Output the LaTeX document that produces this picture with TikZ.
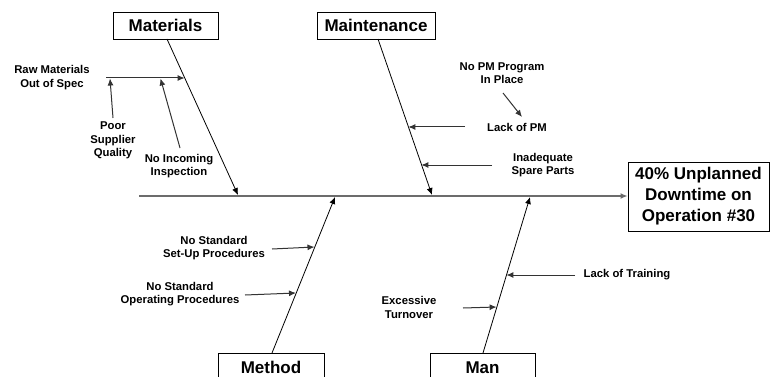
\documentclass[tikz,border=0pt]{standalone}
\usepackage{fontspec}
\setmainfont{Liberation Sans}
\usetikzlibrary{arrows.meta}
\tikzset{
  bigbox/.style={draw=black, line width=0.9pt, fill=white, inner sep=0pt, font=\bfseries\fontsize{17}{21}\selectfont, align=center},
  lbl/.style={inner sep=0pt, font=\bfseries\fontsize{11.3}{13.5}\selectfont, align=center},
  bone/.style={draw=black, line width=0.8pt, -{Latex[length=7pt,width=6pt]}},
  sub/.style={draw=black!80, line width=1pt, -{Latex[length=7pt,width=6pt]}},
  spine/.style={draw=gray!85!black, line width=1.6pt, -{Latex[length=7pt,width=6pt]}}
}
\begin{document}
\begin{tikzpicture}[x=1pt,y=-1pt]
\clip (0,0) rectangle (773,377);
\fill[white] (0,0) rectangle (773,377);
% boxes
\node[bigbox, minimum width=105pt, minimum height=27pt] (mat) at (165.5,25.5) {Materials};
\node[bigbox, minimum width=118pt, minimum height=27pt] (mnt) at (376,25.5) {Maintenance};
\node[bigbox, minimum width=141pt, minimum height=69pt] (eff) at (698.5,196.5) {40\% Unplanned\\Downtime on\\Operation \#30};
\node[bigbox, minimum width=106pt, minimum height=28pt, anchor=north] (met) at (271,353) {Method};
\node[bigbox, minimum width=105pt, minimum height=28pt, anchor=north] (man) at (482.5,353) {Man};
% spine
\coordinate (sp0) at (139,196);
\draw[spine] (sp0) -- (eff.west |- sp0);
% bone end points on spine
\coordinate (matT) at (167,39);
\coordinate (matE) at (238,195);
\coordinate (mntT) at (378,39);
\coordinate (mntE) at (432,195);
\coordinate (metT) at (272,353);
\coordinate (metE) at (335,197);
\coordinate (manT) at (483,353);
\coordinate (manE) at (530,197);
\draw[bone] (matT) -- (matE);
\draw[bone] (mntT) -- (mntE);
\draw[bone] (metT) -- (metE);
\draw[bone] (manT) -- (manE);
% labels
\node[lbl] (rm) at (52,77.5) {Raw Materials\\Out of Spec};
\node[lbl] (psq) at (113,140.5) {Poor\\Supplier\\Quality};
\node[lbl] (nii) at (179,166) {No Incoming\\Inspection};
\node[lbl] (npm) at (502,73) {No PM Program\\In Place};
\node[lbl] (lpm) at (517,127) {Lack of PM};
\node[lbl] (isp) at (543,165) {Inadequate\\Spare Parts};
\node[lbl] (nsu) at (214,248) {No Standard\\Set-Up Procedures};
\node[lbl] (nso) at (180,294) {No Standard\\Operating Procedures};
\node[lbl] (ext) at (409,307.5) {Excessive\\Turnover};
\node[lbl] (lot) at (627,275) {Lack of Training};
% sub-cause arrows
\coordinate (rmS) at (106,78);
\coordinate (rmE) at (184.6,78);
\draw[sub] (rmS) -- (rmE);
\coordinate (psqS) at (113,118);
\coordinate (psqE) at (110,78.5);
\draw[sub] (psqS) -- (psqE);
\coordinate (niiS) at (180,148);
\coordinate (niiE) at (160.5,78.5);
\draw[sub] (niiS) -- (niiE);
\coordinate (npmS) at (503,93);
\coordinate (npmE) at (522,117);
\draw[sub] (npmS) -- (npmE);
\coordinate (lpmS) at (465,127);
\coordinate (lpmE) at (408.3,127);
\draw[sub] (lpmS) -- (lpmE);
\coordinate (ispS) at (492,165);
\coordinate (ispE) at (421.3,165);
\draw[sub] (ispS) -- (ispE);
\coordinate (nsuS) at (272,249);
\coordinate (nsuE) at (314.5,247);
\draw[sub] (nsuS) -- (nsuE);
\coordinate (nsoS) at (245,295);
\coordinate (nsoE) at (296,293);
\draw[sub] (nsoS) -- (nsoE);
\coordinate (extS) at (463,308);
\coordinate (extE) at (496.6,307);
\draw[sub] (extS) -- (extE);
\coordinate (lotS) at (575,275);
\coordinate (lotE) at (506.4,275);
\draw[sub] (lotS) -- (lotE);
\end{tikzpicture}
\end{document}
